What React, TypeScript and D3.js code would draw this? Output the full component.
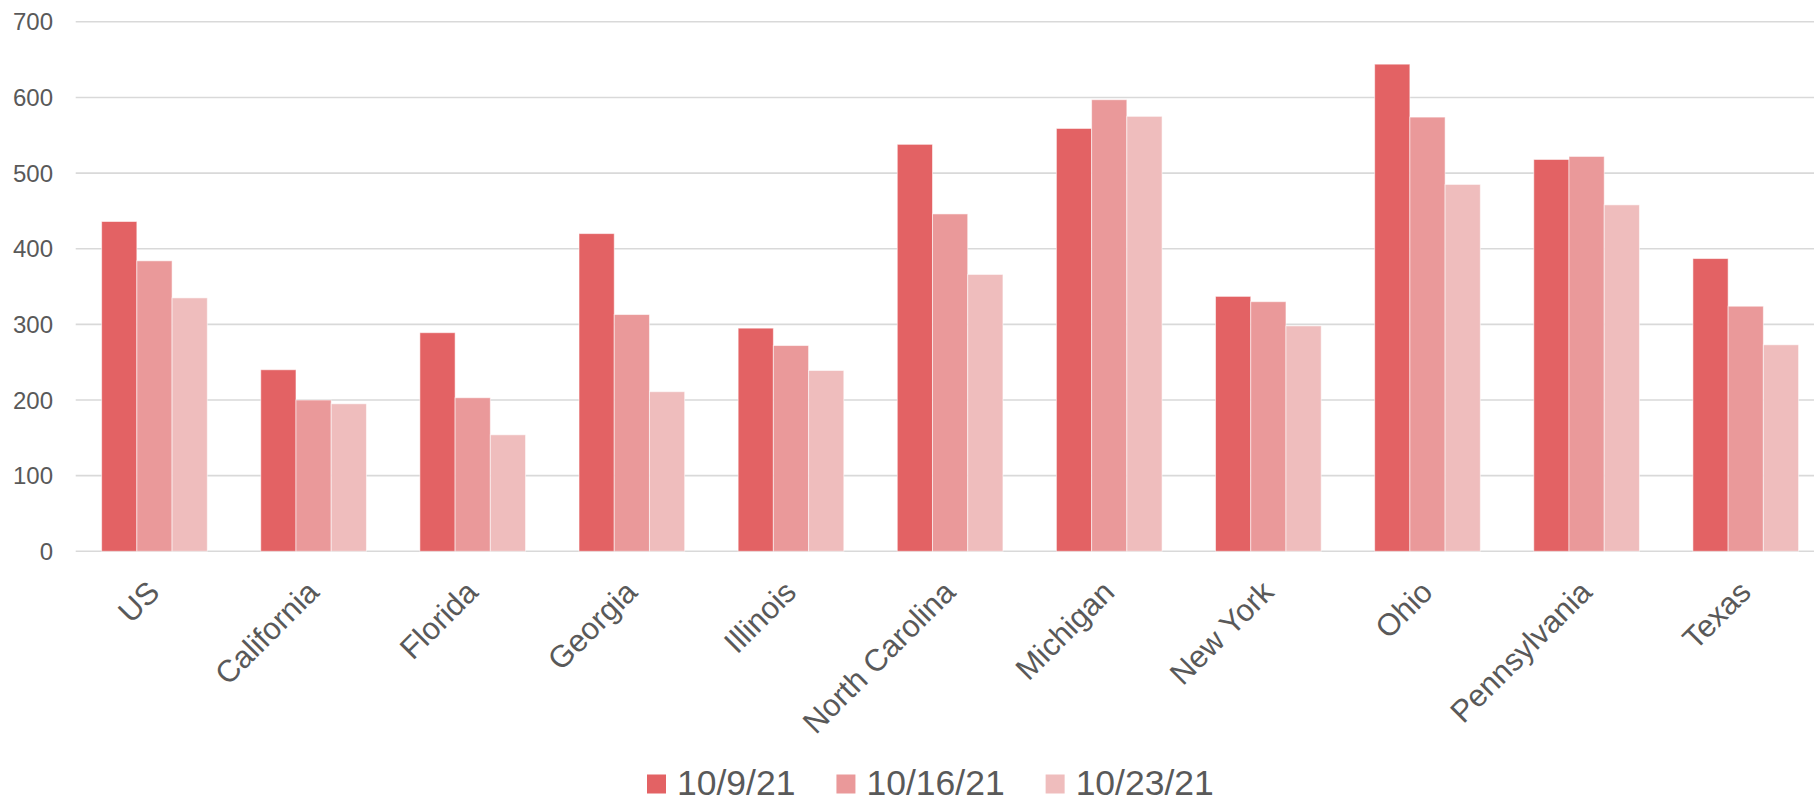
import React from "react";
import * as d3 from "d3";

const categories = ["US", "California", "Florida", "Georgia", "Illinois", "North Carolina", "Michigan", "New York", "Ohio", "Pennsylvania", "Texas"];
const seriesNames = ["10/9/21", "10/16/21", "10/23/21"];
const values_10_9 = [436, 240, 289, 420, 295, 538, 559, 337, 644, 518, 387];
const values_10_16 = [384, 200, 203, 313, 272, 446, 597, 330, 574, 522, 324];
const values_10_23 = [335, 195, 154, 211, 239, 366, 575, 298, 485, 458, 273];
const yTicks = [0, 100, 200, 300, 400, 500, 600, 700];
const colors = ["#E36264", "#EA999A", "#EFBDBD"];

const W = 1814;
const H = 802;
const FONT = "'Liberation Sans', Arial, sans-serif";
const TEXT = "#595959";

function measure(text: string, size: number): number {
  if (typeof document === "undefined") return text.length * size * 0.55;
  const c = document.createElement("canvas");
  const ctx = c.getContext("2d");
  if (!ctx) return text.length * size * 0.55;
  ctx.font = `${size}px 'Liberation Sans', Arial, sans-serif`;
  return ctx.measureText(text).width;
}

export default function App() {
  const series = [values_10_9, values_10_16, values_10_23];
  const x = d3.scaleBand<string>().domain(categories).range([74.9, 1825.3]).paddingInner(0.336).paddingOuter(0.168);
  const xs = d3.scaleBand<number>().domain([0, 1, 2]).range([0, x.bandwidth()]);
  const y = d3.scaleLinear().domain([0, 700]).range([551.3, 21.8]);

  const legendSize = 35.5;
  const sq = 19;
  let lx = 647;
  const legendItems = seriesNames.map((name, i) => {
    const item = { name, x: lx, color: colors[i] };
    lx += 30 + measure(name, legendSize) + 41;
    return item;
  });

  return (
    <svg width={W} height={H} style={{ position: "absolute", left: 0, top: 0, background: "#fff" }} fontFamily={FONT}>
      <rect x={0} y={0} width={W} height={H} fill="#fff" />
      {yTicks.map((t) => (
        <g key={t}>
          <line x1={75.7} x2={W} y1={y(t)} y2={y(t)} stroke="#D9D9D9" strokeWidth={1.6} />
          <text x={53} y={y(t)} dy="0.36em" textAnchor="end" fontSize={24} fill={TEXT}>
            {t}
          </text>
        </g>
      ))}
      {categories.map((c, ci) => (
        <g key={c}>
          {series.map((vals, si) => (
            <rect
              key={si}
              x={(x(c) as number) + (xs(si) as number)}
              y={y(vals[ci])}
              width={xs.bandwidth()}
              height={y(0) - y(vals[ci])}
              fill={colors[si]}
              stroke="#ffffff"
              strokeOpacity={0.55}
              strokeWidth={1}
            />
          ))}
        </g>
      ))}
      {categories.map((c) => {
        const cx = (x(c) as number) + x.bandwidth() / 2;
        return (
          <text
            key={c}
            transform={`translate(${cx + 7},${594}) rotate(-45)`}
            textAnchor="end"
            fontSize={31}
            fill={TEXT}
          >
            {c}
          </text>
        );
      })}
      {legendItems.map((it) => (
        <g key={it.name}>
          <rect x={it.x} y={774.5} width={sq} height={sq} fill={it.color} />
          <text x={it.x + 30} y={794.5} fontSize={legendSize} fill={TEXT}>
            {it.name}
          </text>
        </g>
      ))}
    </svg>
  );
}
